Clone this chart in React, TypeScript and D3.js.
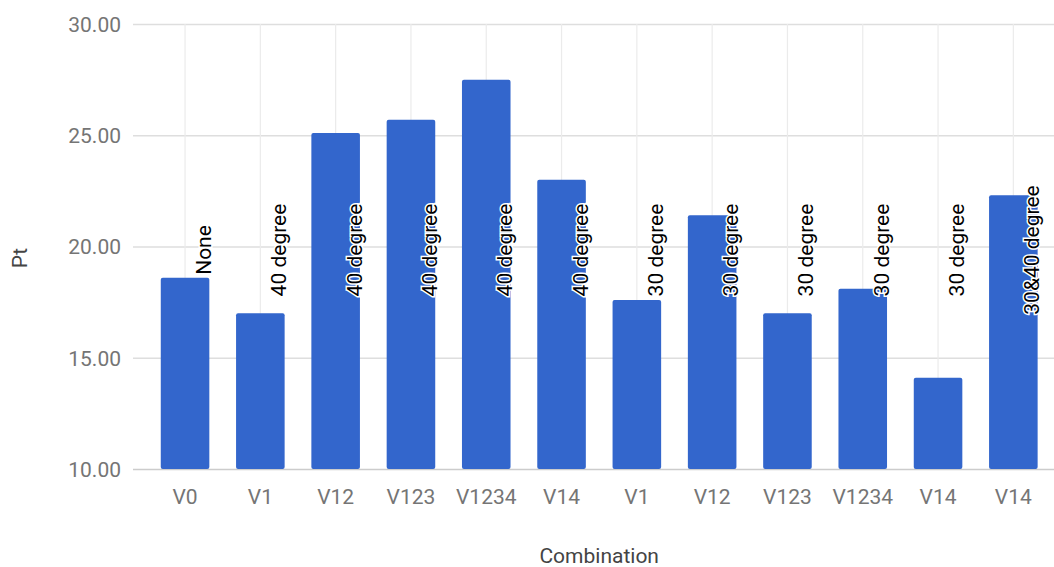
import React, { useEffect, useRef } from "react";
import * as d3 from "d3";

// data
const categories = ["V0", "V1", "V12", "V123", "V1234", "V14", "V1", "V12", "V123", "V1234", "V14", "V14"];
const ptValues = [18.6, 17.0, 25.1, 25.7, 27.5, 23.0, 17.6, 21.4, 17.0, 18.1, 14.1, 22.3];
const annotations = [
  "None",
  "40 degree",
  "40 degree",
  "40 degree",
  "40 degree",
  "40 degree",
  "30 degree",
  "30 degree",
  "30 degree",
  "30 degree",
  "30 degree",
  "30&40 degree",
];
const yTicks = [10, 15, 20, 25, 30];

const W = 1054;
const H = 567;

const App = () => {
  const svgRef = useRef(null);

  useEffect(() => {
    const svg = d3.select(svgRef.current);
    svg.selectAll("*").remove();

    const plot = { left: 147.4, right: 1051, top: 24, bottom: 469 };
    const font = "Roboto, Arial, sans-serif";

    const idx = categories.map((_, i) => i);
    const xScale = d3
      .scaleBand()
      .domain(idx)
      .range([plot.left, plot.right])
      .paddingInner(0.355)
      .paddingOuter(0.1775);

    const yScale = d3.scaleLinear().domain([10, 30]).range([plot.bottom, plot.top]);

    // horizontal gridlines
    svg
      .append("g")
      .selectAll("line")
      .data(yTicks)
      .join("line")
      .attr("x1", 133)
      .attr("x2", W)
      .attr("y1", (d) => yScale(d) + 0.5)
      .attr("y2", (d) => yScale(d) + 0.5)
      .attr("stroke", (d) => (d === 10 ? "#cccccc" : "#dedede"))
      .attr("stroke-width", 1.5);

    // vertical gridlines at category centers
    svg
      .append("g")
      .selectAll("line")
      .data(idx)
      .join("line")
      .attr("x1", (d) => xScale(d) + xScale.bandwidth() / 2)
      .attr("x2", (d) => xScale(d) + xScale.bandwidth() / 2)
      .attr("y1", plot.top)
      .attr("y2", plot.bottom)
      .attr("stroke", "#ebebeb")
      .attr("stroke-width", 1.2);

    // y axis
    const yAxis = d3
      .axisLeft(yScale)
      .tickValues(yTicks)
      .tickFormat(d3.format(".2f"))
      .tickSize(0)
      .tickPadding(0);
    const yAxisGroup = svg.append("g").attr("transform", "translate(121,0)").call(yAxis);
    yAxisGroup.select(".domain").remove();
    yAxisGroup
      .selectAll("text")
      .attr("fill", "#757575")
      .attr("font-size", 21)
      .attr("font-family", font)
      .attr("dy", "0.35em");

    // bars
    svg
      .append("g")
      .selectAll("rect")
      .data(ptValues)
      .join("rect")
      .attr("x", (d, i) => xScale(i))
      .attr("y", (d) => yScale(d))
      .attr("width", xScale.bandwidth())
      .attr("height", (d) => yScale(10) - yScale(d))
      .attr("rx", 2)
      .attr("fill", "#3366cc");

    // x axis labels
    const xAxis = d3
      .axisBottom(xScale)
      .tickFormat((i) => categories[i])
      .tickSize(0)
      .tickPadding(0);
    const xAxisGroup = svg.append("g").attr("transform", "translate(0,504)").call(xAxis);
    xAxisGroup.select(".domain").remove();
    xAxisGroup
      .selectAll("text")
      .attr("fill", "#757575")
      .attr("font-size", 21)
      .attr("font-family", font)
      .attr("dy", 0);

    // annotations, rotated
    svg
      .append("g")
      .selectAll("text")
      .data(annotations)
      .join("text")
      .attr("transform", (d, i) => `translate(${xScale(i) + xScale.bandwidth() / 2 + 26},250) rotate(-90)`)
      .attr("text-anchor", "middle")
      .attr("font-size", 21)
      .attr("font-family", font)
      .attr("fill", "#000")
      .attr("stroke", "#fff")
      .attr("stroke-width", 3)
      .attr("paint-order", "stroke")
      .text((d) => d);

    // axis titles
    svg
      .append("text")
      .attr("x", (plot.left + plot.right) / 2)
      .attr("y", 563)
      .attr("text-anchor", "middle")
      .attr("font-size", 21)
      .attr("font-family", font)
      .attr("fill", "#444")
      .text("Combination");

    svg
      .append("text")
      .attr("transform", "translate(27,258) rotate(-90)")
      .attr("text-anchor", "middle")
      .attr("font-size", 21)
      .attr("font-family", font)
      .attr("fill", "#444")
      .text("Pt");
  }, []);

  return (
    <svg
      ref={svgRef}
      width={W}
      height={H}
      style={{ position: "absolute", left: 0, top: 0, background: "#fff" }}
    />
  );
};

export default App;
